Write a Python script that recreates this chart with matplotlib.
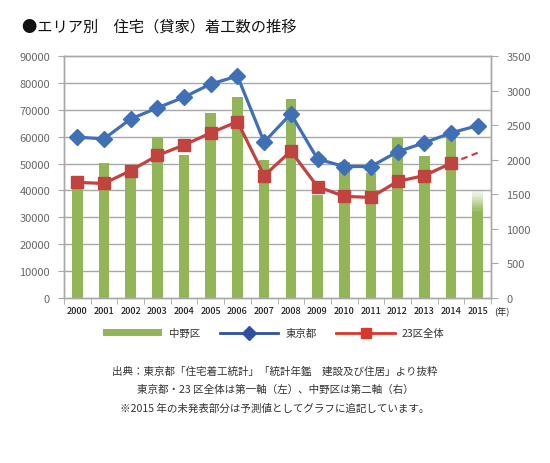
import numpy as np
import matplotlib
matplotlib.use("Agg")
import matplotlib.pyplot as plt
from matplotlib.lines import Line2D
from matplotlib.patches import Patch

plt.rcParams['font.family'] = ['Noto Sans CJK JP', 'DejaVu Sans']

# データ
years = ['2000', '2001', '2002', '2003', '2004', '2005', '2006', '2007',
         '2008', '2009', '2010', '2011', '2012', '2013', '2014', '2015']
tokyo = [59800, 59200, 66600, 70700, 74700, 79600, 82500, 58000,
         68500, 51700, 48900, 48900, 54400, 57700, 61400, 64100]
ku23 = [43000, 42600, 47400, 53000, 56900, 61400, 65600, 45500,
        54600, 41400, 37800, 37400, 43400, 45500, 50100]
ku23_2015 = 54000          # 予測値（破線）
nakano = [1600, 1950, 1770, 2330, 2070, 2680, 2910, 1990,
          2880, 1490, 1960, 1810, 2320, 2050, 2350, 1560]

green = '#92b558'
blue = '#3f6fb5'
red = '#c0433f'
grid_c = '#a8a8a8'
txt_c = '#333333'

fig = plt.figure(figsize=(5.5, 4.64), dpi=100)
ax = fig.add_axes([64/550, 1 - 299/464, 427/550, 242/464])
ax2 = ax.twinx()
ax.set_zorder(ax2.get_zorder() + 1)
ax.patch.set_visible(False)
ax2.patch.set_facecolor('#f1f1f1')

x = np.arange(len(years))

# 中野区（第二軸）
ax2.bar(x[:-1], nakano[:-1], width=0.4, color=green, zorder=2)
# 2015年はグラデーションで薄くする
top15 = nakano[-1]
solid = top15 * 0.8
ax2.bar(x[-1], solid, width=0.4, color=green, zorder=2)
n = 20
step = (top15 - solid) / n
for i in range(n):
    ax2.bar(x[-1], step, bottom=solid + i * step, width=0.4, color=green,
            alpha=1 - (i + 1) / (n + 1), linewidth=0, zorder=2)
ax2.set_ylim(0, 3500)
ax2.set_yticks(np.arange(0, 3501, 500))
# 第一軸の目盛り位置に横線（棒の後ろ）
ax2.set_yticks(np.arange(0, 90001, 10000) * 3500 / 90000, minor=True)
ax2.grid(which='minor', axis='y', color=grid_c, linewidth=1, zorder=0)
ax2.set_axisbelow(True)
ax2.tick_params(axis='y', which='minor', length=0)
ax2.tick_params(axis='y', which='major', length=5, color=grid_c,
                labelsize=8, labelcolor='#666666', pad=6)

# 東京都・23区全体（第一軸）
ax.plot(x, tokyo, color=blue, linewidth=2.3, marker='D', markersize=8,
        zorder=4)
ax.plot(x[:-1], ku23, color=red, linewidth=2.3, marker='s', markersize=8,
        zorder=3)
ax.plot([x[-2], x[-1]], [ku23[-1], ku23_2015], color=red, linewidth=1.6,
        linestyle=(0, (3, 2)), zorder=3)
ax.set_ylim(0, 90000)
ax.set_yticks(np.arange(0, 90001, 10000))
ax.tick_params(axis='y', length=4, color=grid_c, labelsize=8,
               labelcolor='#666666', pad=6)

ax.set_xlim(-0.5, len(years) - 0.5)
ax.set_xticks(x)
ax.set_xticklabels(years, fontsize=6.6, color='#222222', fontweight='medium')
ax.set_xticks(np.arange(-0.5, len(years), 1), minor=True)
ax.tick_params(axis='x', which='major', length=0, pad=6)
ax.tick_params(axis='x', which='minor', length=4, color=grid_c)
ax.text(len(years) - 0.5 + 0.1, -0.034, '(年)', transform=ax.get_xaxis_transform(),
        fontsize=6.6, color='#222222', va='top', ha='left')

for a in (ax, ax2):
    for s in a.spines.values():
        s.set_color(grid_c)
        s.set_linewidth(1)

# タイトル
fig.text(22/550, 1 - 27/464, '●エリア別　住宅（貸家）着工数の推移',
         fontsize=11, color='#111111', va='center', ha='left')

# 凡例
handles = [Patch(facecolor=green, edgecolor='none'),
           Line2D([], [], color='#2f4fa0', linewidth=2, marker='D', markersize=7),
           Line2D([], [], color='#d8392c', linewidth=2, marker='s', markersize=7)]
fig.legend(handles, ['中野区', '東京都', '23区全体'], ncol=3,
           loc='center', bbox_to_anchor=(274/550, 1 - 334/464), frameon=False,
           fontsize=7.5, handlelength=5.6, handleheight=0.6, handletextpad=0.7,
           columnspacing=1.9, labelcolor='#333333')

notes = ['出典：東京都「住宅着工統計」「統計年鑑　建設及び住居」より抜粋',
         '東京都・23 区全体は第一軸（左）、中野区は第二軸（右）',
         '※2015 年の未発表部分は予測値としてグラフに追記しています。']
for i, t in enumerate(notes):
    fig.text(275/550, 1 - (371 + 19 * i)/464, t, fontsize=7.6, color=txt_c,
             ha='center', va='center')

fig.savefig('out.png', dpi=100, facecolor='white')
